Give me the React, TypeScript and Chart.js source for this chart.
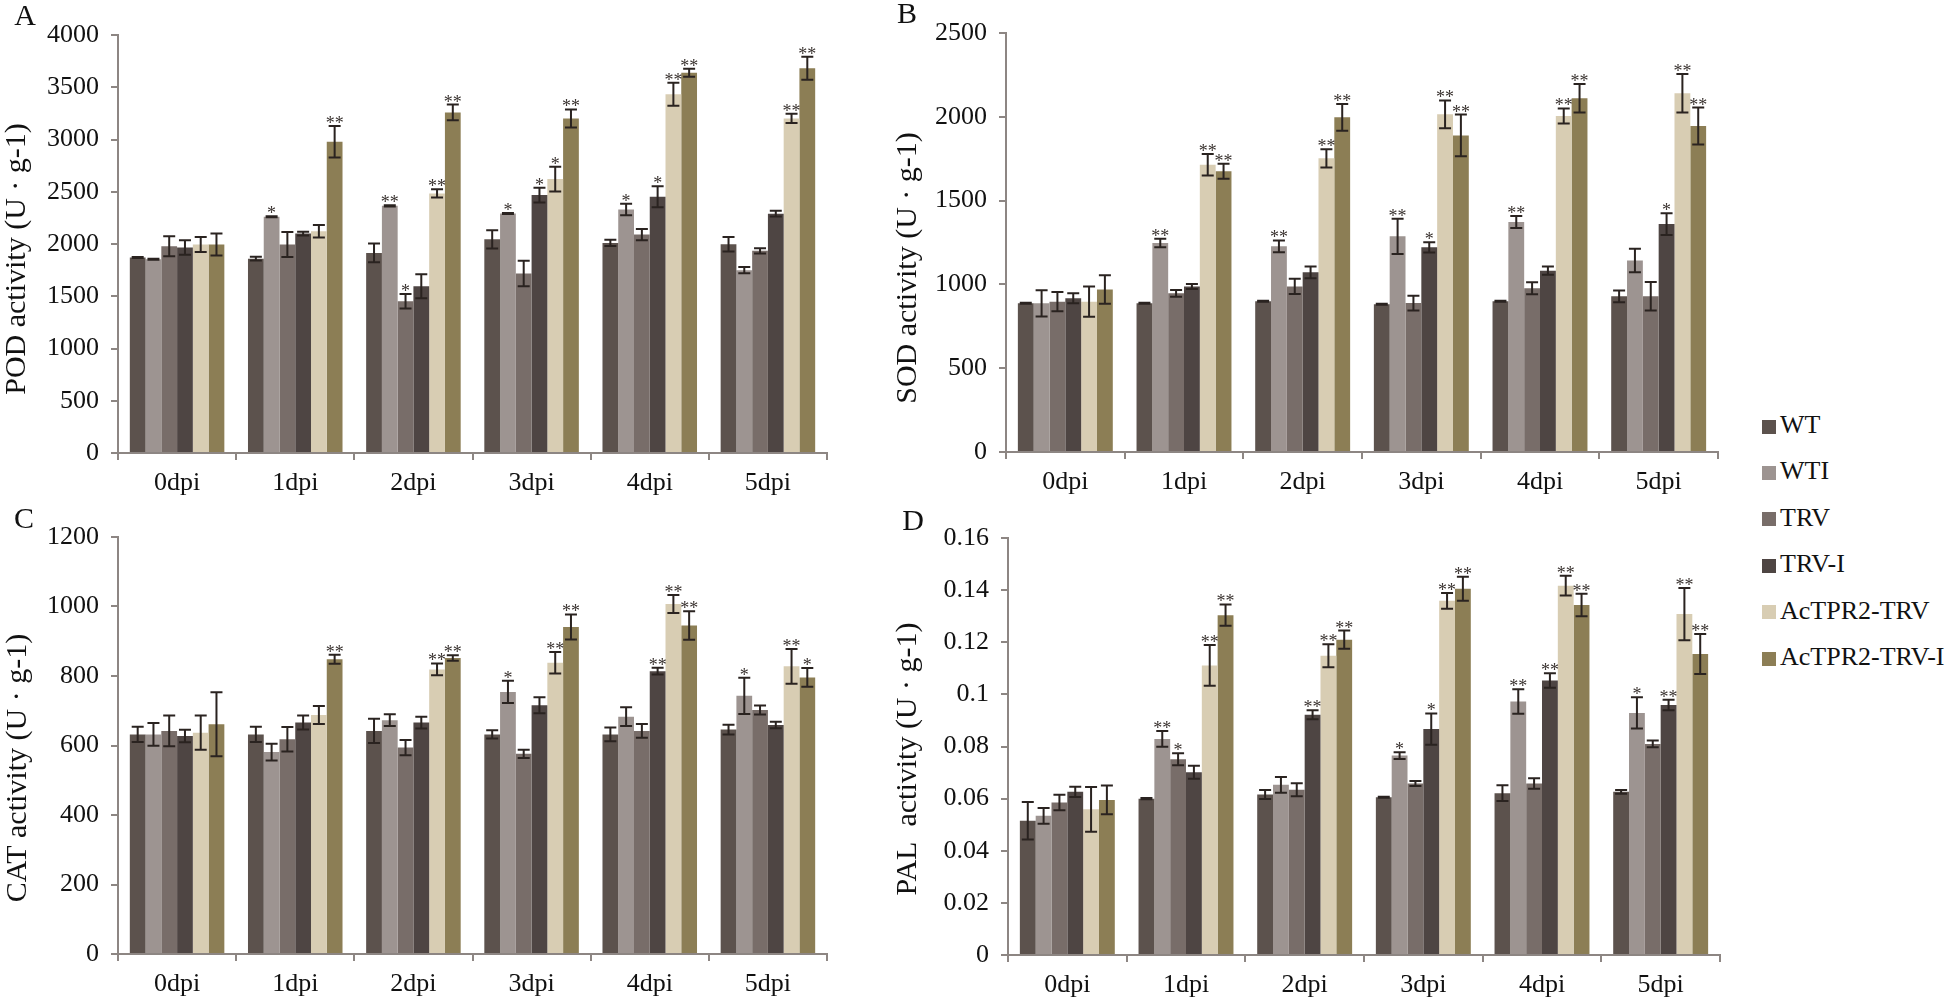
import React, { useEffect, useRef } from 'react';
import { Chart, registerables } from 'chart.js';

Chart.register(...registerables);

const FONT = '"Liberation Serif", "Times New Roman", serif';

const categories = ['0dpi', '1dpi', '2dpi', '3dpi', '4dpi', '5dpi'];
const seriesNames = ['WT', 'WTI', 'TRV', 'TRV-I', 'AcTPR2-TRV', 'AcTPR2-TRV-I'];
const seriesColors = ['#5c524d', '#9d9491', '#786d69', '#4e4543', '#d8cdb3', '#8c7e55'];

// ---- A: POD ----
const podMean = [
  [1870, 1860, 1915, 2045, 2010, 1998],
  [1855, 2260, 2365, 2292, 2330, 1750],
  [1978, 1995, 1452, 1717, 2090, 1935],
  [1966, 2100, 1596, 2468, 2452, 2290],
  [1995, 2123, 2484, 2621, 3432, 3202],
  [1995, 2978, 3259, 3202, 3639, 3681],
];
const podErr = [
  [5, 18, 90, 87, 30, 70],
  [5, 5, 5, 5, 55, 30],
  [95, 120, 70, 122, 54, 25],
  [70, 18, 115, 70, 100, 28],
  [72, 60, 40, 118, 110, 45],
  [105, 150, 75, 86, 38, 110],
];
const podSig = [
  ['', '', '', '', '', ''],
  ['', '*', '**', '*', '*', ''],
  ['', '', '*', '', '', ''],
  ['', '', '', '*', '*', ''],
  ['', '', '**', '*', '**', '**'],
  ['', '**', '**', '**', '**', '**'],
];
const podTicks = [0, 500, 1000, 1500, 2000, 2500, 3000, 3500, 4000];
const podTickLabels = ['0', '500', '1000', '1500', '2000', '2500', '3000', '3500', '4000'];

// ---- B: SOD ----
const sodMean = [
  [887, 887, 899, 881, 899, 929],
  [887, 1247, 1227, 1287, 1372, 1142],
  [897, 947, 988, 889, 977, 929],
  [917, 988, 1072, 1221, 1082, 1360],
  [897, 1714, 1752, 2015, 2005, 2140],
  [969, 1675, 1997, 1889, 2110, 1945],
];
const sodErr = [
  [3, 3, 3, 3, 3, 35],
  [78, 26, 35, 105, 36, 70],
  [57, 20, 45, 44, 36, 85],
  [30, 15, 35, 30, 25, 65],
  [90, 64, 55, 83, 45, 115],
  [85, 45, 80, 124, 85, 110],
];
const sodSig = [
  ['', '', '', '', '', ''],
  ['', '**', '**', '**', '**', ''],
  ['', '', '', '', '', ''],
  ['', '', '', '*', '', '*'],
  ['', '**', '**', '**', '**', '**'],
  ['', '**', '**', '**', '**', '**'],
];
const sodTicks = [0, 500, 1000, 1500, 2000, 2500];
const sodTickLabels = ['0', '500', '1000', '1500', '2000', '2500'];

// ---- C: CAT ----
const catMean = [
  [632, 632, 642, 632, 632, 646],
  [632, 581, 673, 754, 683, 743],
  [642, 618, 594, 576, 642, 702],
  [627, 666, 666, 716, 814, 659],
  [637, 688, 819, 838, 1007, 828],
  [661, 848, 852, 941, 945, 796],
];
const catErr = [
  [22, 22, 35, 12, 20, 14],
  [33, 24, 17, 32, 27, 52],
  [44, 35, 22, 12, 20, 13],
  [18, 20, 17, 23, 10, 9],
  [49, 26, 17, 31, 26, 50],
  [92, 13, 8, 36, 41, 27],
];
const catSig = [
  ['', '', '', '', '', ''],
  ['', '', '', '*', '', '*'],
  ['', '', '', '', '', ''],
  ['', '', '', '', '**', ''],
  ['', '', '**', '**', '**', '**'],
  ['', '**', '**', '**', '**', '*'],
];
const catTicks = [0, 200, 400, 600, 800, 1000, 1200];
const catTickLabels = ['0', '200', '400', '600', '800', '1000', '1200'];

// ---- D: PAL ----
const palMean = [
  [0.0515, 0.06, 0.0616, 0.0605, 0.0621, 0.0626],
  [0.0534, 0.0829, 0.0653, 0.0765, 0.0973, 0.0929],
  [0.0585, 0.0751, 0.0634, 0.0658, 0.0658, 0.081],
  [0.0626, 0.0701, 0.0922, 0.0867, 0.1053, 0.0959],
  [0.0559, 0.1111, 0.1148, 0.1359, 0.1417, 0.1308],
  [0.0595, 0.1304, 0.121, 0.1405, 0.1343, 0.1155],
];
const palErr = [
  [0.0072, 0.0002, 0.0017, 0.0002, 0.003, 0.0007],
  [0.003, 0.003, 0.003, 0.0013, 0.0047, 0.006],
  [0.003, 0.0023, 0.0025, 0.001, 0.002, 0.0013],
  [0.002, 0.0025, 0.0017, 0.006, 0.0028, 0.002],
  [0.0086, 0.0078, 0.0044, 0.003, 0.0038, 0.01],
  [0.0055, 0.0041, 0.0035, 0.0046, 0.0043, 0.0077],
];
const palSig = [
  ['', '', '', '', '', ''],
  ['', '**', '', '*', '**', '*'],
  ['', '*', '', '', '', ''],
  ['', '', '**', '*', '**', '**'],
  ['', '**', '**', '**', '**', '**'],
  ['', '**', '**', '**', '**', '**'],
];
const palTicks = [0, 0.02, 0.04, 0.06, 0.08, 0.1, 0.12, 0.14, 0.16];
const palTickLabels = ['0', '0.02', '0.04', '0.06', '0.08', '0.1', '0.12', '0.14', '0.16'];

const AXIS_COLOR = '#8d8683';

const errorPlugin = {
  id: 'errbars',
  afterDatasetsDraw(chart: any) {
    const ctx = chart.ctx;
    const y = chart.scales.y;
    chart.data.datasets.forEach((ds: any, i: number) => {
      const meta = chart.getDatasetMeta(i);
      meta.data.forEach((bar: any, j: number) => {
        const v = ds.data[j];
        const e = ds.errors[j];
        const yt = y.getPixelForValue(v + e);
        const yb = y.getPixelForValue(v - e);
        ctx.save();
        ctx.strokeStyle = '#2a2320';
        ctx.lineWidth = 2;
        ctx.beginPath();
        ctx.moveTo(bar.x, yt);
        ctx.lineTo(bar.x, yb);
        ctx.moveTo(bar.x - 6, yt);
        ctx.lineTo(bar.x + 6, yt);
        ctx.moveTo(bar.x - 6, yb);
        ctx.lineTo(bar.x + 6, yb);
        ctx.stroke();
        const s = ds.sig[j];
        if (s) {
          ctx.fillStyle = '#3a3330';
          ctx.font = '18px ' + FONT;
          ctx.textAlign = 'center';
          ctx.textBaseline = 'alphabetic';
          ctx.fillText(s, bar.x, yt + 3);
        }
        ctx.restore();
      });
    });
  },
};

const decorPlugin = {
  id: 'decor',
  afterDraw(chart: any, _args: any, opts: any) {
    const ctx = chart.ctx;
    ctx.save();
    ctx.fillStyle = '#111';
    ctx.textAlign = 'center';
    ctx.textBaseline = 'middle';
    ctx.font = '30px ' + FONT;
    ctx.fillText(opts.letter, opts.letterX, opts.letterY);
    ctx.translate(opts.titleX, opts.titleY);
    ctx.rotate(-Math.PI / 2);
    ctx.fillText(opts.title, 0, 0);
    ctx.restore();
  },
};

type PanelProps = {
  left: number;
  top: number;
  width: number;
  height: number;
  area: { left: number; top: number; right: number; bottom: number };
  mean: number[][];
  err: number[][];
  sig: string[][];
  ticks: number[];
  tickLabels: string[];
  letter: string;
  letterPos: [number, number];
  title: string;
  titlePos: [number, number];
};

function Panel(p: PanelProps) {
  const ref = useRef<HTMLCanvasElement | null>(null);
  useEffect(() => {
    if (!ref.current) return;
    const chart = new Chart(ref.current, {
      type: 'bar',
      data: {
        labels: categories,
        datasets: seriesNames.map((name, i) => ({
          label: name,
          data: p.mean[i],
          errors: p.err[i],
          sig: p.sig[i],
          backgroundColor: seriesColors[i],
          borderWidth: 0,
          categoryPercentage: 0.8,
          barPercentage: 1.0,
        })) as any,
      },
      options: {
        responsive: false,
        animation: false,
        devicePixelRatio: 1,
        layout: {
          padding: { top: p.area.top, right: p.width - p.area.right, left: 0, bottom: 0 },
        },
        plugins: {
          legend: { display: false },
          tooltip: { enabled: false },
          title: { display: false },
          decor: {
            letter: p.letter,
            letterX: p.letterPos[0],
            letterY: p.letterPos[1],
            title: p.title,
            titleX: p.titlePos[0],
            titleY: p.titlePos[1],
          },
        } as any,
        scales: {
          x: {
            grid: {
              display: true,
              drawOnChartArea: false,
              drawTicks: true,
              tickLength: 7,
              color: AXIS_COLOR,
              lineWidth: 2,
              offset: true,
            },
            border: { display: true, color: AXIS_COLOR, width: 2 },
            ticks: { color: '#111', font: { size: 26, family: FONT }, padding: 8, maxRotation: 0 },
            afterFit: (s: any) => {
              s.height = p.height - p.area.bottom;
            },
          },
          y: {
            min: 0,
            max: p.ticks[p.ticks.length - 1],
            afterBuildTicks: (s: any) => {
              s.ticks = p.ticks.map((v) => ({ value: v }));
            },
            grid: {
              display: true,
              drawOnChartArea: false,
              drawTicks: true,
              tickLength: 7,
              color: AXIS_COLOR,
              lineWidth: 2,
            },
            border: { display: true, color: AXIS_COLOR, width: 2 },
            ticks: {
              color: '#111',
              font: { size: 26, family: FONT },
              padding: 12,
              callback: (_v: any, idx: number) => p.tickLabels[idx],
            },
            afterFit: (s: any) => {
              s.width = p.area.left;
            },
          },
        } as any,
      },
      plugins: [errorPlugin, decorPlugin],
    });
    return () => chart.destroy();
  }, []);
  return (
    <canvas
      ref={ref}
      width={p.width}
      height={p.height}
      style={{ position: 'absolute', left: p.left, top: p.top, width: p.width, height: p.height }}
    />
  );
}

export default function App() {
  return (
    <div
      style={{
        position: 'absolute',
        left: 0,
        top: 0,
        width: 1946,
        height: 1002,
        background: '#fff',
        overflow: 'hidden',
      }}
    >
      <Panel
        left={0}
        top={0}
        width={880}
        height={500}
        area={{ left: 118, top: 35, right: 827, bottom: 453 }}
        mean={podMean}
        err={podErr}
        sig={podSig}
        ticks={podTicks}
        tickLabels={podTickLabels}
        letter="A"
        letterPos={[25, 17]}
        title="POD activity (U · g-1)"
        titlePos={[17, 259]}
      />
      <Panel
        left={880}
        top={0}
        width={880}
        height={500}
        area={{ left: 126, top: 33, right: 838, bottom: 452 }}
        mean={sodMean}
        err={sodErr}
        sig={sodSig}
        ticks={sodTicks}
        tickLabels={sodTickLabels}
        letter="B"
        letterPos={[27, 15]}
        title="SOD activity (U · g-1)"
        titlePos={[28, 268]}
      />
      <Panel
        left={0}
        top={500}
        width={880}
        height={502}
        area={{ left: 118, top: 37, right: 827, bottom: 454 }}
        mean={catMean}
        err={catErr}
        sig={catSig}
        ticks={catTicks}
        tickLabels={catTickLabels}
        letter="C"
        letterPos={[24, 20]}
        title="CAT activity (U · g-1)"
        titlePos={[18, 268]}
      />
      <Panel
        left={880}
        top={500}
        width={880}
        height={502}
        area={{ left: 128, top: 38, right: 840, bottom: 455 }}
        mean={palMean}
        err={palErr}
        sig={palSig}
        ticks={palTicks}
        tickLabels={palTickLabels}
        letter="D"
        letterPos={[33, 22]}
        title="PAL  activity (U · g-1)"
        titlePos={[28, 259]}
      />
      <div style={{ position: 'absolute', left: 1762, top: 0 }}>
        {seriesNames.map((n, i) => (
          <div
            key={n}
            style={{
              position: 'absolute',
              left: 0,
              top: 425 + i * 46.4 - 18,
              height: 36,
              display: 'flex',
              alignItems: 'center',
              whiteSpace: 'nowrap',
              fontFamily: FONT,
              fontSize: 26,
              color: '#111',
            }}
          >
            <span
              style={{
                display: 'inline-block',
                width: 14,
                height: 14,
                background: seriesColors[i],
                marginRight: 4,
                marginTop: 3,
              }}
            />
            <span>{n}</span>
          </div>
        ))}
      </div>
    </div>
  );
}
